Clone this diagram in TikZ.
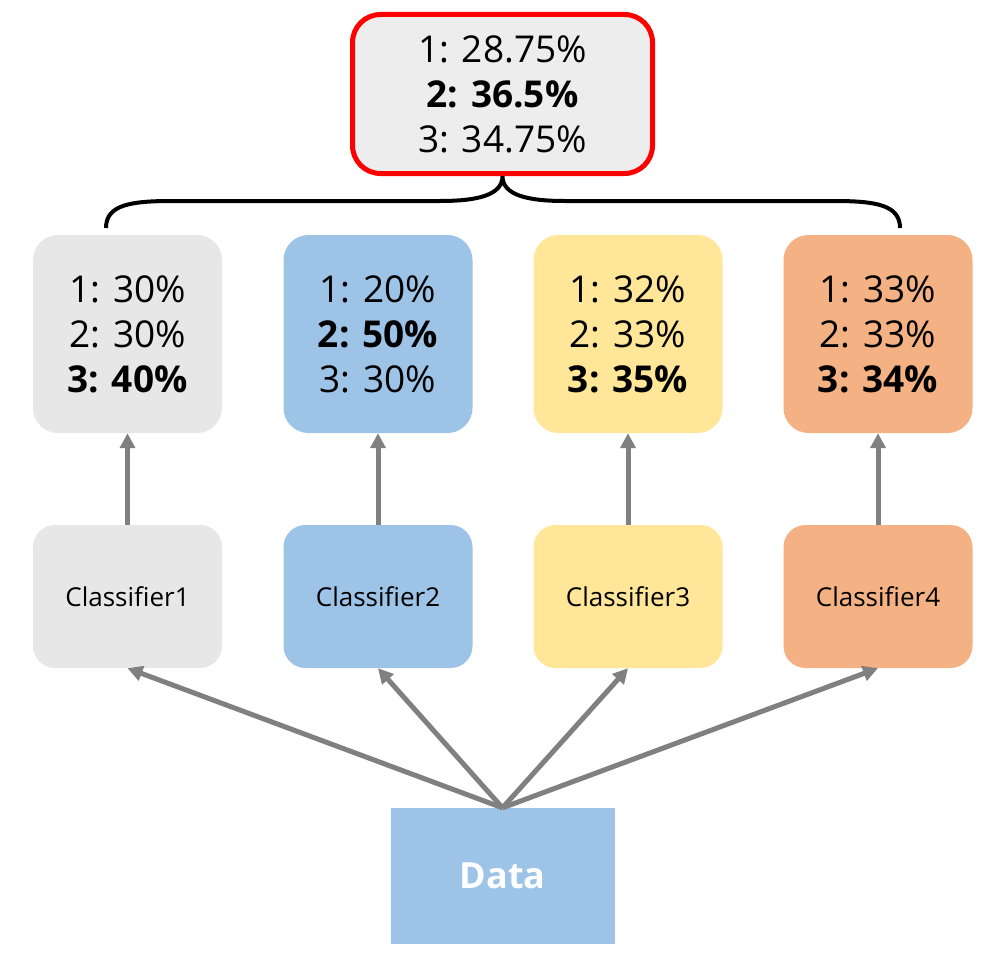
\documentclass[tikz,border=0pt]{standalone}
\usepackage{fontspec}
\setmainfont{Open Sans}
\usetikzlibrary{arrows.meta}
\definecolor{cgray}{HTML}{E7E7E7}
\definecolor{cblue}{HTML}{9DC3E6}
\definecolor{cyellow}{HTML}{FFE699}
\definecolor{corange}{HTML}{F4B183}
\definecolor{ctop}{HTML}{EDEDED}
\definecolor{carrow}{HTML}{808080}
\tikzset{
  scorebox/.style={rounded corners=25pt, minimum width=189pt, minimum height=198pt, inner sep=0pt, align=center, font=\fontsize{37}{45}\selectfont},
  clfbox/.style={rounded corners=22pt, minimum width=189pt, minimum height=143pt, inner sep=0pt, font=\fontsize{26}{30}\selectfont},
  topbox/.style={rounded corners=28pt, draw=red, line width=5pt, fill=ctop, minimum width=300pt, minimum height=159pt, inner sep=0pt, align=center, font=\fontsize{37}{45}\selectfont},
  databox/.style={fill=cblue, minimum width=224pt, minimum height=136pt, inner sep=0pt, text=white, font=\fontsize{36}{40}\selectfont\bfseries},
  arr/.style={draw=carrow, line width=5pt, -{Triangle[length=15pt,width=15pt]}},
  brace/.style={draw=black, line width=4pt}
}
\begin{document}
\begin{tikzpicture}[x=1pt,y=-1pt]
\useasboundingbox (0,0) rectangle (1006,971);
\node[topbox] (top) at (502.5,94) {1: 28.75\%\\\textbf{2: 36.5\%}\\3: 34.75\%};
\node[scorebox, fill=cgray] (s1) at (127.5,334) {1: 30\%\\2: 30\%\\\textbf{3: 40\%}};
\node[scorebox, fill=cblue] (s2) at (378,334) {1: 20\%\\\textbf{2: 50\%}\\3: 30\%};
\node[scorebox, fill=cyellow] (s3) at (628,334) {1: 32\%\\2: 33\%\\\textbf{3: 35\%}};
\node[scorebox, fill=corange] (s4) at (878,334) {1: 33\%\\2: 33\%\\\textbf{3: 34\%}};
\node[clfbox, fill=cgray] (c1) at (127.5,596.5) {Classifier1};
\node[clfbox, fill=cblue] (c2) at (378,596.5) {Classifier2};
\node[clfbox, fill=cyellow] (c3) at (628,596.5) {Classifier3};
\node[clfbox, fill=corange] (c4) at (878,596.5) {Classifier4};
\node[databox] (data) at (502.5,876) {Data};
\coordinate (bl) at (106,228);
\coordinate (br) at (900,228);
\coordinate (tip) at (top.south);
\draw[brace] (bl) .. controls (106,205) and (130,201) .. (172,201) -- (440,201)
  .. controls (478,201) and (502.5,195) .. (tip)
  .. controls (502.5,195) and (527,201) .. (565,201) -- (834,201)
  .. controls (876,201) and (900,205) .. (br);
\foreach \i in {1,2,3,4}{
  \draw[arr] (c\i.north) -- (s\i.south);
  \draw[arr] (data.north) -- (c\i.south);
}
\end{tikzpicture}
\end{document}
